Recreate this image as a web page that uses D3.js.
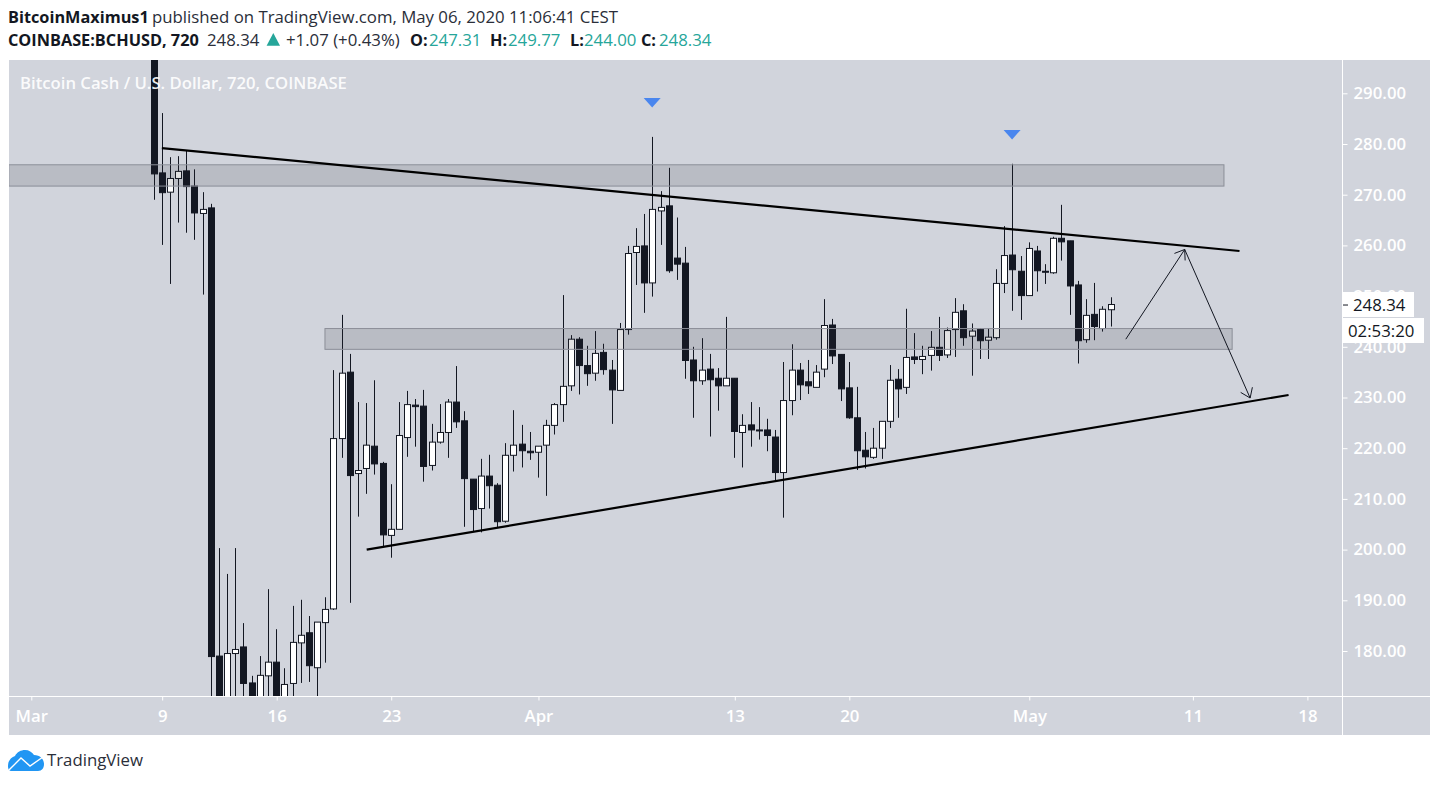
<!DOCTYPE html>
<html><head><meta charset="utf-8">
<style>
html,body{margin:0;padding:0;background:#fff;overflow:hidden}
svg{display:block}
text{font-family:"Open Sans",sans-serif}
.axis text{fill:#fff;font-size:16.8px;font-weight:600;font-family:"Open Sans",sans-serif}
.axis line,.axis path{stroke:#fff}
</style>
<script src="https://cdnjs.cloudflare.com/ajax/libs/d3/7.8.5/d3.min.js"></script>
</head><body><svg id="c" width="1439" height="785"></svg>
<script>
// Candles are 12h bars, first bar at 8 Mar 2020 12:00 UTC
const opens=[305,274.3,270.5,273.2,274.7,271.7,266.3,267.4,179.0,168,179.5,180.8,173.7,168,175.1,177.8,168,173.6,181.6,183.6,176.7,185.6,188.3,221.9,235.0,215.0,216.0,220.4,217.0,202.8,204.0,222.1,228.5,228.3,216.6,221.2,223.1,229.1,225.4,213.9,208.1,214.5,212.7,205.6,218.6,220.8,219.4,219.2,220.6,224.5,228.6,232.3,241.5,236.3,234.8,238.9,235.4,231.4,243.4,258.6,259.9,252.6,266.8,267.8,257.5,256.5,237.4,233.3,235.6,233.8,232.3,233.8,223.1,224.6,223.6,223.6,222.2,215.2,229.4,235.4,233.1,232.0,235.6,244.3,238.5,231.9,226.0,219.6,218.2,220.0,225.3,233.6,232.0,238.0,237.5,238.3,239.9,238.4,243.4,247.1,242.1,243.4,241.3,241.8,252.5,258.1,254.9,250.1,258.9,254.9,254.6,261.4,260.9,252.2,241.4,246.4,243.6,247.31];
const highs=[312,286.1,277.4,277.6,278.8,275.0,270.5,268.2,200.3,195.2,200.3,185.5,175.1,179.0,192.2,184.3,176.6,188.9,190.1,186.9,185.7,190.6,235.4,246.3,238.6,229.1,228.9,233.4,217.3,212.9,229.1,231.3,229.7,231.5,224.8,228.7,229.7,236.2,227.3,213.9,217.9,218.7,213.1,221.0,227.5,224.6,223.2,220.4,225.6,228.9,250.2,242.3,241.9,240.2,243.1,240.6,237.4,244.7,259.9,263.4,266.2,281.4,270.7,275.3,265.5,259.7,240.0,241.7,238.6,235.8,245.9,233.8,226.7,229.1,228.1,225.8,223.6,237.0,240.5,236.8,237.4,236.4,249.4,245.5,238.5,237.0,232.1,223.2,224.0,225.3,236.4,235.6,247.5,242.7,240.2,243.1,245.9,243.8,249.6,248.4,244.6,243.7,243.7,255.3,263.8,276.1,257.9,260.6,259.9,256.3,261.7,268.0,260.9,253.0,249.4,252.6,248.0,249.77];
const lows=[269.0,260.1,252.4,264.5,262.5,261.1,250.3,165,160,160,165,165,162,165,165,164,166,167,173.7,173.9,168,177.7,188.1,218.1,189.5,206.5,211.0,214.8,200.6,198.4,204.0,218.3,220.3,213.4,215.6,220.9,218.1,224.0,204.5,203.5,203.4,208.1,204.3,205.3,215.4,216.2,217.7,214.2,210.6,222.7,225.2,231.3,230.6,232.3,233.3,234.5,224.8,231.4,242.4,252.2,246.7,249.9,260.1,254.6,253.2,233.7,226.0,232.5,222.3,227.4,232.3,218.1,216.2,220.3,221.7,219.4,213.6,206.3,226.5,229.5,230.7,232.0,234.0,236.6,229.3,225.8,215.7,216.0,217.9,217.9,224.0,226.0,230.7,236.6,234.6,235.3,237.2,237.8,238.0,240.2,234.3,237.6,237.6,241.4,250.6,247.1,245.3,250.1,250.9,252.4,254.4,257.0,246.3,236.7,240.8,241.3,243.0,244.00];
const closes=[274.1,270.4,273.2,274.6,271.6,266.4,267.1,178.9,168,179.5,180.3,173.6,168,175.2,177.8,168,173.4,181.7,183.1,177.1,185.7,188.2,221.9,234.8,214.6,215.6,220.6,216.9,202.9,204.0,222.5,228.6,228.2,216.4,221.2,223.1,229.1,225.2,214.0,207.9,214.5,212.6,205.5,218.6,220.6,219.5,219.1,220.4,224.5,228.6,232.2,241.5,236.3,234.7,238.7,235.5,231.5,243.4,258.4,259.8,252.6,267.1,267.5,255.0,256.3,237.3,233.3,235.4,233.5,232.3,233.8,223.3,224.5,223.6,223.5,222.5,215.2,229.4,235.4,232.5,232.3,235.0,244.2,238.2,231.7,226.0,219.5,218.3,220.0,225.3,233.4,231.7,237.9,237.5,238.1,239.9,238.3,243.2,246.8,241.8,243.1,241.2,241.9,252.5,258.0,255.2,250.1,259.4,255.0,254.8,261.4,260.7,252.0,241.2,246.2,244.0,247.4,248.34];

const priceTicks=[180,190,200,210,220,230,240,250,260,270,280,290];
const dateTickDays=[new Date(Date.UTC(2020,2,1)),new Date(Date.UTC(2020,2,9)),new Date(Date.UTC(2020,2,16)),new Date(Date.UTC(2020,2,23)),new Date(Date.UTC(2020,3,1)),new Date(Date.UTC(2020,3,13)),new Date(Date.UTC(2020,3,20)),new Date(Date.UTC(2020,4,1)),new Date(Date.UTC(2020,4,11)),new Date(Date.UTC(2020,4,18))];
const dateTickLabels=["Mar","9","16","23","Apr","13","20","May","11","18"];

// drawings: [bar index, price]
const zoneUpper=[[-17.75,275.9],[130.8,271.7]];
const zoneLower=[[20.9,243.6],[131.8,239.5]];
const lineResistance=[[0.96,279.2],[132.7,258.9]];
const lineSupport=[[26,200.0],[138.7,230.5]];
const arrowUp=[[118.8,241.5],[126,259.2]];
const arrowDown=[[126,259.2],[134,229.9]];
const markers=[[60.9,287.2],[104.9,280.9]];

const P={l:9,r:1342,t:60,b:696,R:1430,B:735};
const svg=d3.select("#c");
const x=d3.scaleUtc().domain([Date.UTC(2020,2,1),Date.UTC(2020,4,18)]).range([31.3,1307.4]);
const y=d3.scaleLinear().domain([180,290]).range([651,93.3]);
const barDate=i=>Date.UTC(2020,2,8,12)+i*12*3600e3;
const bx=i=>x(barDate(i));
const snap=v=>Math.floor(v)+.5;
const ink="#131722";

svg.append("rect").attr("x",P.l).attr("y",P.t).attr("width",P.R-P.l).attr("height",P.B-P.t).attr("fill","#d1d4dc");
const defs=svg.append("defs");
defs.append("clipPath").attr("id","plot").append("rect").attr("x",P.l).attr("y",P.t).attr("width",P.r-P.l).attr("height",P.b-P.t);
const g=svg.append("g").attr("clip-path","url(#plot)");

const idx=d3.range(opens.length);
g.append("g").selectAll("line").data(idx).join("line")
 .attr("x1",i=>snap(bx(i))).attr("x2",i=>snap(bx(i))).attr("y1",i=>y(highs[i])).attr("y2",i=>y(lows[i]))
 .attr("stroke",ink).attr("stroke-width",1);
g.append("g").selectAll("rect").data(idx).join("rect")
 .attr("x",i=>snap(bx(i))-3).attr("width",6)
 .attr("y",i=>y(Math.max(opens[i],closes[i])))
 .attr("height",i=>Math.max(1,Math.abs(y(opens[i])-y(closes[i]))))
 .attr("fill",i=>closes[i]>=opens[i]?"#fff":ink).attr("stroke",ink).attr("stroke-width",1);

function zone(z){
  const x0=bx(z[0][0]),x1=bx(z[1][0]),y0=y(z[0][1]),y1=y(z[1][1]);
  g.append("rect").attr("x",x0).attr("y",y0).attr("width",x1-x0).attr("height",y1-y0)
   .attr("fill","rgba(40,42,50,.14)").attr("stroke","#8b8e98").attr("stroke-width",1);
}
zone(zoneUpper);zone(zoneLower);

const seg=(p,w,c)=>g.append("line").attr("x1",bx(p[0][0])).attr("y1",y(p[0][1])).attr("x2",bx(p[1][0])).attr("y2",y(p[1][1])).attr("stroke",c||ink).attr("stroke-width",w);
seg(lineResistance,2.2,"#000");seg(lineSupport,2.2,"#000");
function arrow(p){
  seg(p,1);
  const X=bx(p[1][0]),Y=y(p[1][1]),a=Math.atan2(Y-y(p[0][1]),X-bx(p[0][0]));
  [-1,1].forEach(s=>g.append("line").attr("x1",X).attr("y1",Y)
    .attr("x2",X-11*Math.cos(a+s*.62)).attr("y2",Y-11*Math.sin(a+s*.62)).attr("stroke",ink).attr("stroke-width",1));
}
arrow(arrowUp);arrow(arrowDown);

g.append("g").selectAll("path").data(markers).join("path")
 .attr("d",m=>{const X=bx(m[0]),Y=y(m[1]);return `M${X-8.5},${Y-9.5}L${X+8.5},${Y-9.5}L${X},${Y}Z`;})
 .attr("fill","#4a86ee");

svg.append("text").attr("x",20).attr("y",88.5).attr("fill","#fff").attr("fill-opacity",.92).attr("font-size",16.7).attr("font-weight",600).text("Bitcoin Cash / U.S. Dollar, 720, COINBASE");

// axes
const yAxis=d3.axisRight(y).tickValues(priceTicks).tickSize(5).tickPadding(6).tickFormat(d3.format(".2f"));
const ya=svg.append("g").attr("class","axis").attr("transform",`translate(${P.r+.5},0)`).call(yAxis);
ya.select(".domain").remove();
const xAxis=d3.axisBottom(x).tickValues(dateTickDays).tickSize(4).tickPadding(10).tickFormat((d,i)=>dateTickLabels[i]);
const xa=svg.append("g").attr("class","axis").attr("transform",`translate(0,${P.b+.5})`).call(xAxis);
xa.select(".domain").remove();
svg.append("line").attr("x1",P.r+.5).attr("x2",P.r+.5).attr("y1",P.t).attr("y2",P.B).attr("stroke","#fff");
svg.append("line").attr("x1",P.l).attr("x2",P.R).attr("y1",P.b+.5).attr("y2",P.b+.5).attr("stroke","#fff");

// last price labels
const last=closes[closes.length-1];
const yl=y(last);
svg.append("rect").attr("x",P.r+1).attr("y",yl-12.5).attr("width",71).attr("height",25).attr("fill","#fff");
svg.append("line").attr("x1",P.r+1).attr("x2",P.r+6).attr("y1",yl+.5).attr("y2",yl+.5).attr("stroke",ink);
svg.append("text").attr("x",P.r+11).attr("y",yl+6).attr("font-size",16.8).attr("fill",ink).text(d3.format(".2f")(last));
svg.append("rect").attr("x",P.r+1).attr("y",yl+13.5).attr("width",81).attr("height",25).attr("fill","#fff");
svg.append("text").attr("x",P.r+6).attr("y",yl+32).attr("font-size",16.8).attr("fill",ink).text("02:53:20");

// header
const teal="#26a69a";
const hdr=(X,Y,t,o={})=>svg.append("text").attr("x",X).attr("y",Y).attr("font-size",o.b?16.3:16.8).attr("font-weight",o.b?700:400).attr("fill",o.c||"#2a2e39").text(t);
hdr(8,23,"BitcoinMaximus1",{b:1,c:ink});
hdr(152,23,"published on TradingView.com, May 06, 2020 11:06:41 CEST");
hdr(8,46,"COINBASE:BCHUSD, 720",{b:1,c:ink});
hdr(207,46,d3.format(".2f")(last));
svg.append("path").attr("d","M273.3,33L280,45.7L266.6,45.7Z").attr("fill",teal);
hdr(286,46,"+1.07 (+0.43%)");
hdr(410,46,"O:",{b:1,c:ink});hdr(429,46,"247.31",{c:teal});
hdr(490,46,"H:",{b:1,c:ink});hdr(508,46,"249.77",{c:teal});
hdr(570,46,"L:",{b:1,c:ink});hdr(584,46,"244.00",{c:teal});
hdr(641,46,"C:",{b:1,c:ink});hdr(659,46,d3.format(".2f")(last),{c:teal});

// logo
svg.append("path").attr("fill","#2196f3").attr("d","M8,766C8,760 12,757 15,756C17,752 21,750 25,750C29,750 32,752 34,755C40,755 44,759 44,764C44,768 42,771 38,771L12,771C9,771 8,769 8,766Z");
svg.append("path").attr("fill","none").attr("stroke","#fff").attr("stroke-width",1.4).attr("d","M9,770L21,758L30,766L43,757");
svg.append("text").attr("x",47).attr("y",766).attr("font-size",16.8).attr("fill","#2a2e39").text("TradingView");
</script></body></html>
